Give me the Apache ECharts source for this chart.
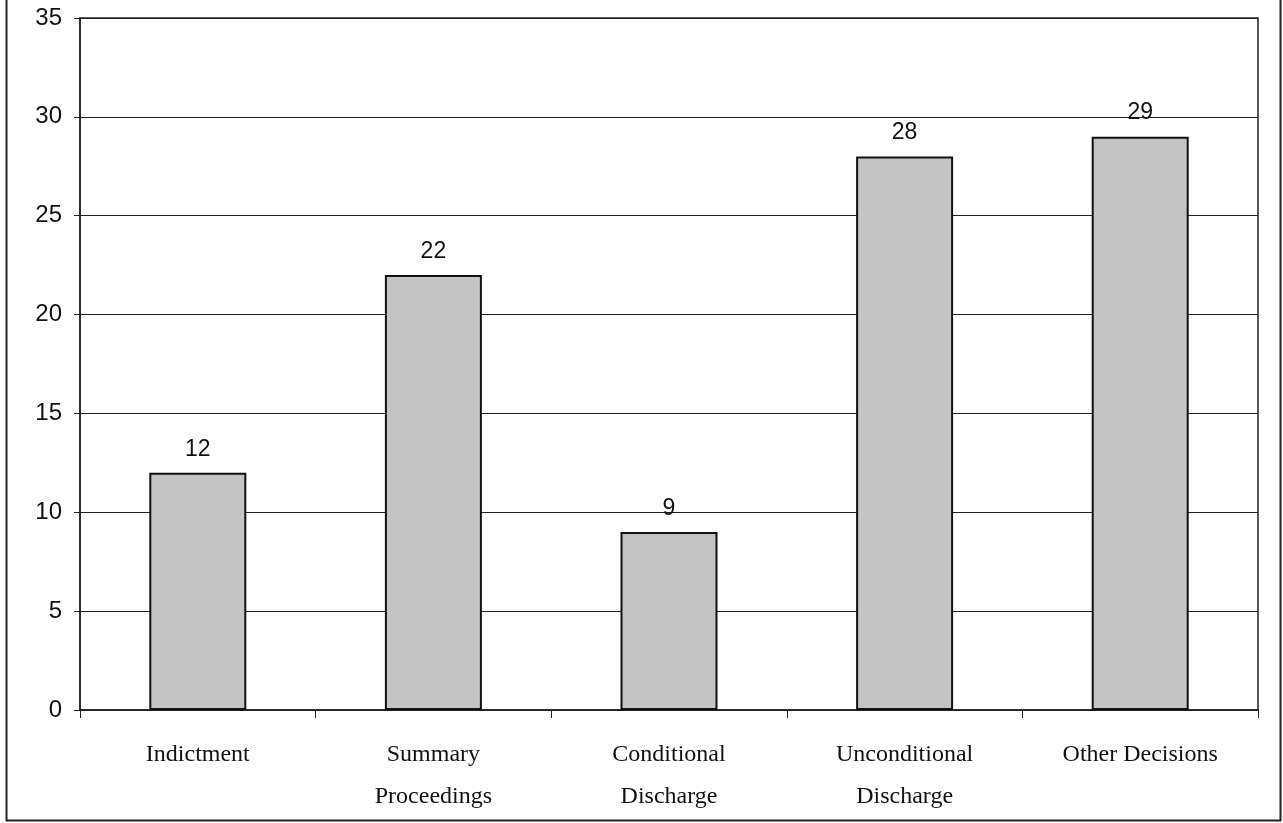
<!DOCTYPE html>
<html>
<head>
<meta charset="utf-8">
<script src="https://cdn.jsdelivr.net/npm/echarts@6/dist/echarts.min.js"></script>
<style>
html, body { margin: 0; padding: 0; background: #fff; }
#main { width: 1283px; height: 823px; }
</style>
</head>
<body>
<div id="main"></div>
<script>
var categories = ['Indictment', 'Summary\nProceedings', 'Conditional\nDischarge', 'Unconditional\nDischarge', 'Other Decisions'];
var values = [12, 22, 9, 28, 29];

var myChart = echarts.init(document.getElementById('main'));
var option = {
	backgroundColor: '#fff',
	animation: false,
	graphic: [{
		type: 'rect',
		left: 4,
		top: -4,
		shape: { width: 1274, height: 822 },
		style: { fill: 'none', stroke: '#222', lineWidth: 2 }
	}],
	grid: {
		left: 80,
		right: 25,
		top: 18,
		bottom: 113,
		show: true,
		borderColor: '#222',
		borderWidth: 1.5
	},
	xAxis: {
		type: 'category',
		data: categories,
		axisLine: { lineStyle: { color: '#222', width: 1.5 } },
		axisTick: { show: true, length: 8, lineStyle: { color: '#222' } },
		axisLabel: {
			fontFamily: 'Liberation Serif',
			fontSize: 24,
			color: '#111',
			lineHeight: 42,
			margin: 24
		}
	},
	yAxis: {
		type: 'value',
		min: 0,
		max: 35,
		interval: 5,
		axisLine: { show: true, lineStyle: { color: '#222', width: 1.5 } },
		axisTick: { show: true, length: 6, lineStyle: { color: '#222' } },
		splitLine: { lineStyle: { color: '#222', width: 1.2 } },
		axisLabel: {
			fontFamily: 'Liberation Sans',
			fontSize: 24,
			color: '#111',
			margin: 18
		}
	},
	series: [{
		type: 'bar',
		data: values,
		barWidth: 97,
		itemStyle: {
			color: '#c4c4c4',
			borderColor: '#111',
			borderWidth: 2
		},
		label: {
			show: true,
			position: 'top',
			distance: 12,
			fontFamily: 'Liberation Sans',
			fontSize: 23,
			color: '#111'
		}
	}]
};
myChart.setOption(option);
</script>
</body>
</html>
